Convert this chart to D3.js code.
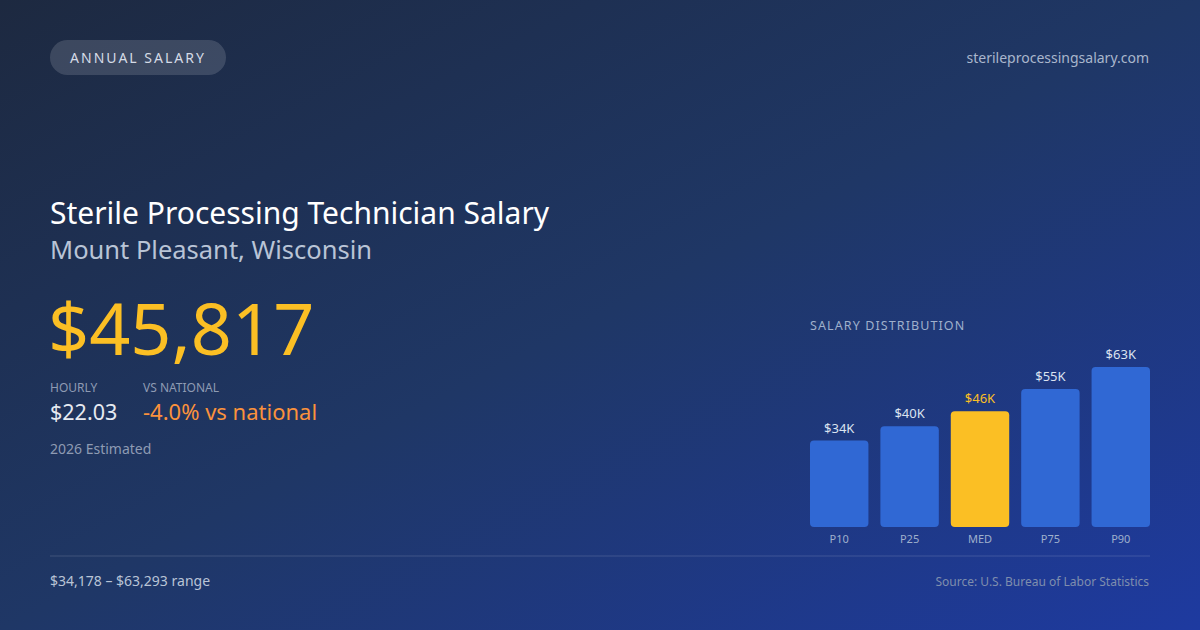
<!DOCTYPE html>
<html><head><meta charset="utf-8">
<script src="https://cdn.jsdelivr.net/npm/d3@7"></script>
<style>body{margin:0;width:1200px;height:630px;overflow:hidden;font-family:"Noto Sans",sans-serif}</style>
</head><body><svg id="c" width="1200" height="630"></svg>
<script>
const categories=["P10","P25","MED","P75","P90"];
const values=[34178,39900,45817,54600,63293];
const labels=["$34K","$40K","$46K","$55K","$63K"];
const svg=d3.select("#c");
const defs=svg.append("defs");
const g=defs.append("linearGradient").attr("id","bg").attr("x1","0").attr("y1","0").attr("x2","1").attr("y2","1");
g.append("stop").attr("offset","0").attr("stop-color","#1d2940");
g.append("stop").attr("offset","0.5").attr("stop-color","#1f3766");
g.append("stop").attr("offset","1").attr("stop-color","#1e3aa0");
svg.append("rect").attr("width",1200).attr("height",630).attr("fill","url(#bg)");
const T=(x,y,t,s,c,o={})=>svg.append("text").attr("x",x).attr("y",y).text(t).attr("font-size",s).attr("fill",c).attr("text-anchor",o.a||"start").attr("font-weight",o.w||400).attr("letter-spacing",o.ls||0);
svg.append("rect").attr("x",50).attr("y",40).attr("width",176).attr("height",35).attr("rx",17.5).attr("fill","rgba(255,255,255,0.14)");
T(138,63,"ANNUAL SALARY",14,"#d5dbe6",{a:"middle",ls:2});
T(1149,63,"sterileprocessingsalary.com",14,"#a9b6cc",{a:"end"});
T(50,224,"Sterile Processing Technician Salary",30,"#ffffff");
T(50,259,"Mount Pleasant, Wisconsin",25.5,"#b9c4d6");
T(48,355,"$45,817",72,"#fbbf24");
T(50,392,"HOURLY",12,"#8e9bb3");
T(143,392,"VS NATIONAL",12,"#8e9bb3");
T(50,420,"$22.03",21.5,"#e6eaf1");
T(143,420,"-4.0% vs national",22,"#fb923c");
T(50,454,"2026 Estimated",14,"#8e9bb3");
T(810,330,"SALARY DISTRIBUTION",12.5,"#9fb0cc",{ls:1.1});
const x=d3.scaleBand().domain(categories).range([810,1150]).paddingInner(0.17).paddingOuter(0);
const y=d3.scaleLinear().domain([0,63293]).range([527,367]);
categories.forEach((c,i)=>{
  const med=c==="MED";
  svg.append("rect").attr("x",x(c)).attr("y",y(values[i])).attr("width",x.bandwidth()).attr("height",527-y(values[i])).attr("rx",4).attr("fill",med?"#fbbf24":"#3068d4");
  T(x(c)+x.bandwidth()/2,y(values[i])-8,labels[i],13,med?"#fbbf24":"#dbe3f0",{a:"middle"});
  T(x(c)+x.bandwidth()/2,543,c,11,"#9fb0cc",{a:"middle"});
});
svg.append("line").attr("x1",50).attr("x2",1150).attr("y1",556).attr("y2",556).attr("stroke","rgba(255,255,255,0.15)");
T(50,586,"$34,178 – $63,293 range",14,"#b9c4d6");
T(1149,586,"Source: U.S. Bureau of Labor Statistics",12,"#7f8ead",{a:"end"});
</script></body></html>
